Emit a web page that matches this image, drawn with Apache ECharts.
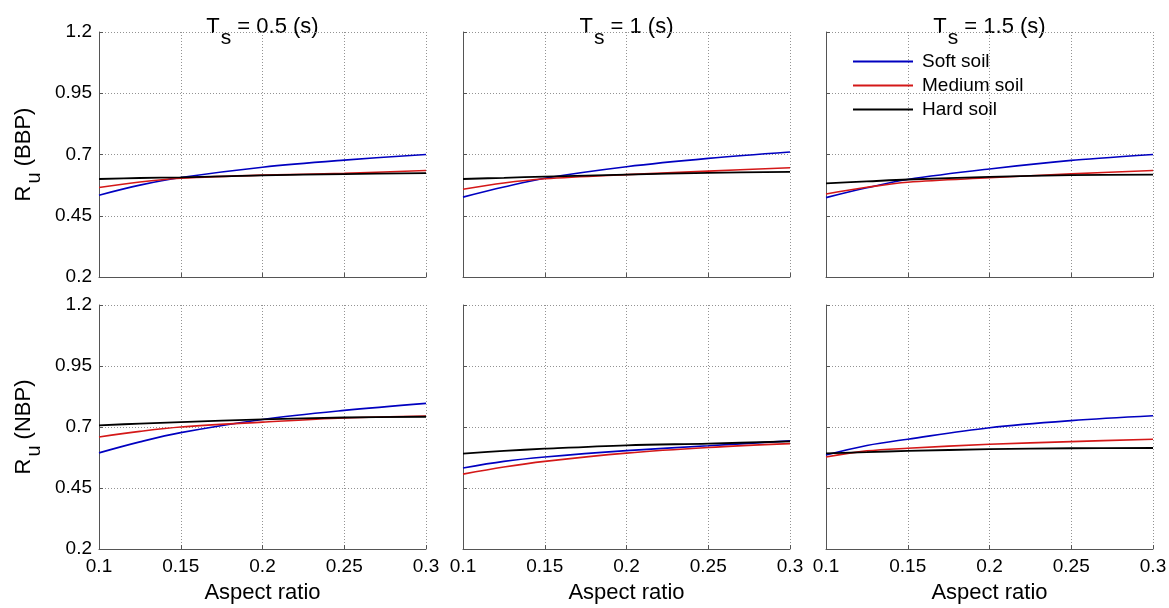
<!DOCTYPE html>
<html><head><meta charset="utf-8">
<script src="https://cdn.jsdelivr.net/npm/echarts@6/dist/echarts.min.js"></script>
<style>html,body{margin:0;padding:0;background:#fff}#c{width:1169px;height:608px}</style>
</head><body><div id="c"></div>
<script>
const aspectRatio = [0.1, 0.125, 0.15, 0.2, 0.25, 0.3];
const periodLabels = ['0.5', '1', '1.5'];
const soilNames = ['Soft soil', 'Medium soil', 'Hard soil'];
const soilColors = ['#0000c0', '#d41818', '#000000'];
const rowLabels = ['BBP', 'NBP'];
const xMin = 0.1, xMax = 0.3, xStep = 0.05;
const yMin = 0.2, yMax = 1.2, yStep = 0.25;

// Top row R_u (BBP): one array per period Ts = 0.5, 1, 1.5 (s)
const bbpSoft = [
  [0.534, 0.575, 0.606, 0.648, 0.677, 0.700],
  [0.526, 0.567, 0.603, 0.650, 0.684, 0.710],
  [0.524, 0.564, 0.598, 0.641, 0.676, 0.700]
];
const bbpMedium = [
  [0.565, 0.588, 0.603, 0.616, 0.623, 0.635],
  [0.558, 0.584, 0.601, 0.618, 0.632, 0.646],
  [0.539, 0.566, 0.587, 0.605, 0.621, 0.635]
];
const bbpHard = [
  [0.600, 0.604, 0.607, 0.615, 0.620, 0.624],
  [0.600, 0.605, 0.610, 0.618, 0.625, 0.629],
  [0.582, 0.590, 0.598, 0.609, 0.616, 0.618]
];
// Bottom row R_u (NBP)
const nbpSoft = [
  [0.594, 0.639, 0.677, 0.731, 0.768, 0.797],
  [0.532, 0.559, 0.577, 0.603, 0.623, 0.643],
  [0.585, 0.624, 0.650, 0.697, 0.726, 0.746]
];
const nbpMedium = [
  [0.659, 0.682, 0.700, 0.720, 0.737, 0.745],
  [0.507, 0.536, 0.559, 0.593, 0.616, 0.632],
  [0.577, 0.602, 0.613, 0.629, 0.640, 0.650]
];
const nbpHard = [
  [0.707, 0.714, 0.720, 0.731, 0.739, 0.742],
  [0.591, 0.602, 0.611, 0.625, 0.632, 0.641],
  [0.592, 0.597, 0.602, 0.609, 0.613, 0.614]
];

const FONT = 'Liberation Sans, Arial, Helvetica, sans-serif';
const rowData = [[bbpSoft, bbpMedium, bbpHard], [nbpSoft, nbpMedium, nbpHard]];
const gridLefts = [99, 463, 826];
const gridTops = [32, 305];
const gridHeights = [245, 244];
const gridWidth = 327;

const grids = [], xAxes = [], yAxes = [], series = [], graphics = [];
const dotted = { color: '#939393', width: 1, type: [1, 2] };
const axisLineStyle = { color: '#555', width: 1 };

for (let r = 0; r < 2; r++) {
  for (let c = 0; c < 3; c++) {
    const idx = r * 3 + c;
    grids.push({ left: gridLefts[c], top: gridTops[r], width: gridWidth, height: gridHeights[r], outerBoundsMode: 'none', containLabel: false });
    xAxes.push({
      type: 'value', gridIndex: idx, min: xMin, max: xMax, interval: xStep,
      axisLine: { show: true, onZero: false, lineStyle: axisLineStyle },
      axisTick: { show: true, inside: true, length: 4, lineStyle: axisLineStyle },
      axisLabel: { show: r === 1, fontSize: 19, color: '#000', fontFamily: FONT, margin: 8, showMinLabel: true, showMaxLabel: true, hideOverlap: false },
      splitLine: { show: true, lineStyle: dotted },
      name: r === 1 ? 'Aspect ratio' : '', nameLocation: 'middle', nameGap: 33,
      nameTextStyle: { fontSize: 22, color: '#000', fontFamily: FONT }
    });
    yAxes.push({
      type: 'value', gridIndex: idx, min: yMin, max: yMax, interval: yStep,
      axisLine: { show: true, onZero: false, lineStyle: axisLineStyle },
      axisTick: { show: true, inside: true, length: 4, lineStyle: axisLineStyle },
      axisLabel: { show: c === 0, fontSize: 19, color: '#000', fontFamily: FONT, margin: 7, showMinLabel: true, showMaxLabel: true, hideOverlap: false },
      splitLine: { show: true, lineStyle: dotted },
      name: c === 0 ? '{m|R}{s|u}{m| (' + rowLabels[r] + ')}' : '',
      nameLocation: 'middle', nameGap: 55, nameRotate: 90,
      nameTextStyle: {
        color: '#000', fontFamily: FONT, fontSize: 22,
        rich: {
          m: { fontSize: 22, fontFamily: FONT, color: '#000', lineHeight: 22 },
          s: { fontSize: 20, fontFamily: FONT, color: '#000', padding: [20, 0, 0, 2] }
        }
      }
    });
    for (let s = 0; s < 3; s++) {
      const vals = rowData[r][s][c];
      series.push({
        name: soilNames[s], type: 'line', xAxisIndex: idx, yAxisIndex: idx,
        data: aspectRatio.map((x, k) => [x, vals[k]]),
        smooth: 0.35, symbol: 'none', showSymbol: false,
        lineStyle: { color: soilColors[s], width: s === 2 ? 1.8 : 1.6 },
        itemStyle: { color: soilColors[s] },
        emphasis: { disabled: true }, animation: false, z: 3 + s
      });
    }
  }
}
for (let c = 0; c < 3; c++) {
  graphics.push({
    type: 'text', x: gridLefts[c] + gridWidth / 2, y: 27,
    style: {
      text: '{m|T}{s|s}{m| = ' + periodLabels[c] + ' (s)}',
      align: 'center', verticalAlign: 'middle', fill: '#000',
      font: '22px ' + FONT,
      rich: {
        m: { fontSize: 22, fontFamily: FONT, fill: '#000', lineHeight: 22 },
        s: { fontSize: 21, fontFamily: FONT, fill: '#000', padding: [22, 0, 0, 1] }
      }
    }
  });
}

const chart = echarts.init(document.getElementById('c'), null, { renderer: 'canvas' });
chart.setOption({
  animation: false,
  backgroundColor: '#fff',
  grid: grids, xAxis: xAxes, yAxis: yAxes, series: series,
  graphic: graphics,
  legend: {
    data: soilNames, orient: 'vertical', left: 848, top: 47,
    itemWidth: 60, itemHeight: 2, itemGap: 5, icon: 'rect',
    textStyle: { fontSize: 19, color: '#000', fontFamily: FONT, padding: [0, 0, 0, 4] },
    selectedMode: false
  }
});
</script></body></html>
